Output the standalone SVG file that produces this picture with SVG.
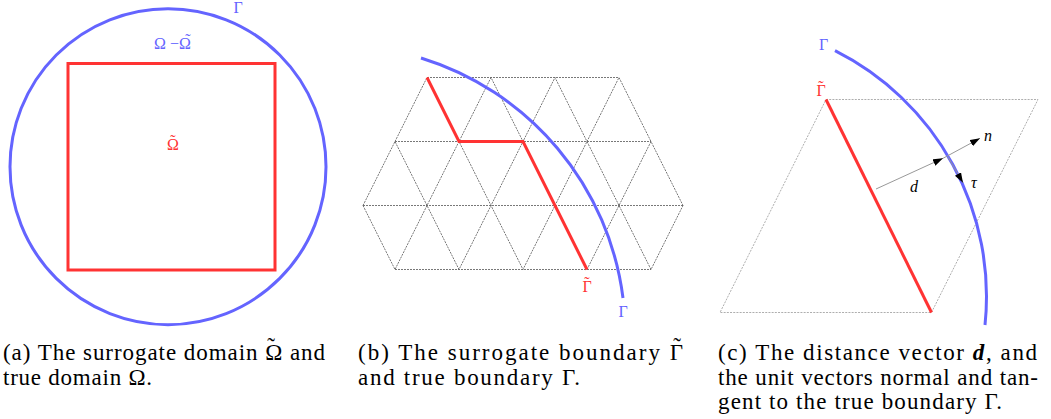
<svg xmlns="http://www.w3.org/2000/svg" width="1051" height="419" viewBox="0 0 1051 419">
<style>
.bl{fill:none;stroke:#6464ff;stroke-width:3}
.rd{fill:none;stroke:#ff3333;stroke-width:3}
.grid{fill:none;stroke:#555;stroke-width:0.8;stroke-dasharray:2 1}
.para{fill:none;stroke:#999;stroke-width:0.8;stroke-dasharray:2 1.2}
.vec{fill:none;stroke:#999;stroke-width:1}
.lab{font-family:"Liberation Serif",serif;font-size:16px}
.lb{fill:#6464ff}
.lr{fill:#ff3333}
.it{font-family:"Liberation Serif",serif;font-size:16px;font-style:italic;fill:#000}
.cap{font-family:"Liberation Serif",serif;font-size:23px;fill:#000}
</style>
<defs>
<marker id="ah" markerWidth="11" markerHeight="8" refX="10" refY="3.5" orient="auto" markerUnits="userSpaceOnUse">
<path d="M0,0 L10,3.5 L0,7 z" fill="#000"/>
</marker>
</defs>
<rect width="1051" height="419" fill="#fff"/>

<g id="panel-a">
<g id="a-gamma-circle"><circle class="bl" cx="168" cy="166.7" r="158"/></g>
<g id="a-omega-tilde-square"><rect class="rd" x="68" y="63.5" width="207" height="206.5"/></g>
<text class="lab lb" x="238" y="13" text-anchor="middle">Γ</text>
<text class="lab lb" x="154" y="49">Ω −Ω<tspan x="188" y="45" text-anchor="middle">˜</tspan></text>
<text class="lab lr" x="173" y="150" text-anchor="middle">Ω<tspan x="173" y="146" text-anchor="middle">˜</tspan></text>
</g>

<g id="panel-b">
<g id="b-mesh">
<polyline class="grid" points="427,77.5 619,77.5"/>
<polyline class="grid" points="395,141.5 651,141.5"/>
<polyline class="grid" points="363,205.5 683,205.5"/>
<polyline class="grid" points="395,269.5 651,269.5"/>
<polyline class="grid" points="395,141.5 427,77.5 459,141.5 491,77.5 523,141.5 555,77.5 587,141.5 619,77.5 651,141.5"/>
<polyline class="grid" points="363,205.5 395,141.5 427,205.5 459,141.5 491,205.5 523,141.5 555,205.5 587,141.5 619,205.5 651,141.5 683,205.5"/>
<polyline class="grid" points="363,205.5 395,269.5 427,205.5 459,269.5 491,205.5 523,269.5 555,205.5 587,269.5 619,205.5 651,269.5 683,205.5"/>
</g>
<g id="b-surrogate"><polyline class="rd" points="427,77.5 459,141.5 523,141.5 587,269.5"/></g>
<g id="b-true"><path class="bl" d="M421,58 A289,289 0 0 1 623,298"/></g>
<text class="lab lr" x="587" y="292" text-anchor="middle">Γ<tspan x="587" y="288" text-anchor="middle">˜</tspan></text>
<text class="lab lb" x="623" y="317" text-anchor="middle">Γ</text>
</g>

<g id="panel-c">
<g id="c-element"><polygon class="para" points="826,99.5 1038,99.5 931.5,312.5 720,312.5"/></g>
<g id="c-surrogate"><line class="rd" x1="826" y1="99.5" x2="931.5" y2="312.5"/></g>
<g id="c-true"><path class="bl" d="M835,50.7 A275,275 0 0 1 985,325"/></g>
<g id="c-vectors">
<line class="vec" x1="876" y1="189" x2="943" y2="158.3" marker-end="url(#ah)"/>
<line class="vec" x1="943" y1="158.3" x2="980" y2="138.3" marker-end="url(#ah)"/>
<line class="vec" x1="948" y1="157" x2="963" y2="182.7" marker-end="url(#ah)"/>
</g>
<text class="lab lb" x="823.5" y="50" text-anchor="middle">Γ</text>
<text class="lab lr" x="821" y="96" text-anchor="middle">Γ<tspan x="821" y="92" text-anchor="middle">˜</tspan></text>
<text class="it" x="910" y="192">d</text>
<text class="it" x="984" y="141">n</text>
<text class="it" x="971" y="188">τ</text>
</g>

<g id="captions">
<text class="cap" x="3" y="360" textLength="322">(a) The surrogate domain Ω and</text>
<text class="cap" x="271" y="354" text-anchor="middle">˜</text>
<text class="cap" x="3" y="384.5" textLength="149">true domain Ω.</text>
<text class="cap" x="358" y="360" textLength="325">(b) The surrogate boundary Γ</text>
<text class="cap" x="677" y="354" text-anchor="middle">˜</text>
<text class="cap" x="358" y="384.5" textLength="222">and true boundary Γ.</text>
<text class="cap" x="718" y="360" textLength="319">(c) The distance vector <tspan font-weight="bold" font-style="italic">d</tspan>, and</text>
<text class="cap" x="718" y="384.5" textLength="320">the unit vectors normal and tan-</text>
<text class="cap" x="718" y="409" textLength="284">gent to the true boundary Γ.</text>
</g>
</svg>
